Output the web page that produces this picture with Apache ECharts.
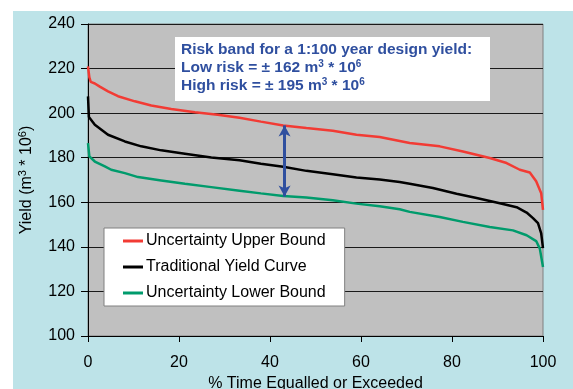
<!DOCTYPE html>
<html>
<head>
<meta charset="utf-8">
<script src="https://cdn.jsdelivr.net/npm/echarts@6/dist/echarts.min.js"></script>
<style>html,body{margin:0;padding:0;background:#fff}#c{width:573px;height:389px}</style>
</head>
<body>
<div id="c"></div>
<script>
// ---- data ----
const seriesNames = ['Uncertainty Upper Bound', 'Traditional Yield Curve', 'Uncertainty Lower Bound'];
const upperPct = [0, 0.3, 0.6, 1.5, 2.5, 4.4, 6.6, 10.3, 13.9, 18.3, 23.5, 28.5, 33.3, 38, 42.9, 48, 53.8, 59, 64.1, 68.5, 70.7, 77.3, 82.4, 88.3, 92, 94.9, 97.1, 98.5, 99.6, 100];
const upperVal = [221, 216, 214, 213.3, 212, 209.8, 207.6, 205.3, 203.4, 201.9, 200.4, 199.3, 197.9, 196.2, 194.5, 193.3, 192.1, 190.3, 189.3, 187.5, 186.6, 185.1, 182.8, 179.9, 177.6, 174.6, 173.4, 169.4, 164.1, 156.6];
const tradPct = [0, 0.2, 1.5, 4.4, 8.1, 11.7, 16.1, 21.3, 27.1, 33.3, 38, 42.9, 48, 53.8, 59, 64.1, 68.5, 70.7, 75.8, 81, 85.4, 90.5, 94.2, 96.4, 97.8, 98.9, 99.6, 100];
const tradVal = [207.5, 198.3, 194.8, 190.3, 187.3, 185.1, 183.3, 181.8, 180.1, 178.9, 177.3, 175.9, 174.1, 172.6, 171.1, 170.2, 169.1, 168.3, 166.4, 163.8, 161.9, 159.6, 157.8, 155.4, 152.9, 150.6, 146.1, 139.4];
const lowerPct = [0, 0.3, 1.5, 3.7, 5.1, 8.1, 11, 16.1, 21.3, 27.1, 33.3, 38, 42.9, 48, 53.8, 59, 64.1, 68.5, 70.7, 77.3, 82.4, 88.3, 93.4, 96.4, 98.5, 99.3, 100];
const lowerVal = [186.6, 180.6, 178.3, 176.1, 174.6, 173.1, 171.3, 169.8, 168.3, 166.8, 165.2, 164, 162.8, 162.1, 160.9, 159.4, 158.2, 156.9, 155.7, 153.4, 151.2, 148.9, 147.4, 145.2, 142.6, 139.2, 131];
const xTicks = [0, 20, 40, 60, 80, 100];
const yTicks = [100, 120, 140, 160, 180, 200, 220, 240];
const arrowPct = 43.2;
const arrowTop = 194.5;
const arrowBottom = 162.6;
const noteLines = ['Risk band for a 1:100 year design yield:', 'Low risk = \u00b1 162 m', 'High risk = \u00b1 195 m'];

const pairs = (xs, ys) => xs.map((x, i) => [x, ys[i]]);
const FONT = 'Arial, "Liberation Sans", sans-serif';
const colors = ['#f23b34', '#000000', '#009b6c'];
const blue = '#2f4f9f';

const chart = echarts.init(document.getElementById('c'), null, {renderer: 'canvas'});
chart.setOption({
  animation: false,
  backgroundColor: '#bde3e8',
  textStyle: {fontFamily: FONT},
  grid: {left: 88, right: 30, top: 24, bottom: 53, containLabel: false, outerBoundsMode: 'none', show: true, backgroundColor: '#c0c0c0', borderColor: '#808080', borderWidth: 1},
  xAxis: {
    type: 'value', min: xTicks[0], max: xTicks[xTicks.length - 1], interval: xTicks[1] - xTicks[0],
    name: '% Time Equalled or Exceeded', nameLocation: 'middle', nameGap: 39,
    nameTextStyle: {fontSize: 16, color: '#000', fontFamily: FONT},
    axisLine: {show: true, lineStyle: {color: '#000', width: 1}},
    axisTick: {show: true, inside: false, length: 6, lineStyle: {color: '#000'}},
    axisLabel: {fontSize: 16, color: '#000', margin: 19, fontFamily: FONT},
    splitLine: {show: false}
  },
  yAxis: {
    type: 'value', min: yTicks[0], max: yTicks[yTicks.length - 1], interval: yTicks[1] - yTicks[0],
    name: '{a|Yield (m}{s|3}{a| * 10}{s|6}{a|)}', nameLocation: 'middle', nameGap: 52, nameRotate: 90,
    nameTextStyle: {
      color: '#000', fontFamily: FONT,
      rich: {
        a: {fontSize: 16, color: '#000', fontFamily: FONT, lineHeight: 19, verticalAlign: 'middle'},
        s: {fontSize: 11, color: '#000', fontFamily: FONT, lineHeight: 12, verticalAlign: 'top'}
      }
    },
    axisLine: {show: true, lineStyle: {color: '#000', width: 1}},
    axisTick: {show: true, inside: false, length: 7, lineStyle: {color: '#000'}},
    axisLabel: {fontSize: 16, color: '#000', margin: 13, fontFamily: FONT},
    splitLine: {show: true, lineStyle: {color: '#1a1a1a', width: 1}}
  },
  legend: {
    orient: 'vertical', left: 104, top: 228,
    backgroundColor: '#ffffff', borderColor: '#808080', borderWidth: 1,
    padding: [5, 19, 5, 19], itemGap: 10, itemWidth: 20, itemHeight: 3,
    icon: 'rect',
    textStyle: {fontSize: 16, color: '#000', fontFamily: FONT, padding: [0, 0, 0, -2]},
    data: seriesNames
  },
  graphic: {
    elements: [
      {type: 'rect', left: 0, top: 0, shape: {width: 13, height: 389}, style: {fill: '#ffffff'}, silent: true},
      {type: 'rect', left: 0, top: 0, shape: {width: 573, height: 11}, style: {fill: '#ffffff'}, silent: true},
      {type: 'rect', left: 175, top: 37, shape: {width: 315, height: 64}, style: {fill: '#ffffff'}, z: 50, silent: true},
      {
        type: 'text', left: 181, top: 42, z: 51, silent: true,
        style: {
          text: '{a|' + noteLines[0] + '}\n{a|' + noteLines[1] + '}{s|3}{a| * 10}{s|6}\n{a|' + noteLines[2] + '}{s|3}{a| * 10}{s|6}',
          rich: {
            a: {fontSize: 15.5, fontWeight: 'bold', fill: blue, fontFamily: FONT, lineHeight: 18, verticalAlign: 'middle'},
            s: {fontSize: 10, fontWeight: 'bold', fill: blue, fontFamily: FONT, lineHeight: 13, verticalAlign: 'top'}
          }
        }
      }
    ]
  },
  series: [
    {name: seriesNames[0], type: 'line', data: pairs(upperPct, upperVal), showSymbol: false, symbol: 'none', lineStyle: {color: colors[0], width: 2.5}, itemStyle: {color: colors[0]}, z: 3},
    {name: seriesNames[1], type: 'line', data: pairs(tradPct, tradVal), showSymbol: false, symbol: 'none', lineStyle: {color: colors[1], width: 2.5}, itemStyle: {color: colors[1]}, z: 3,
      markLine: {
        silent: true, symbol: ['arrow', 'arrow'], symbolSize: [9, 11], animation: false,
        label: {show: false},
        lineStyle: {color: blue, width: 3, type: 'solid'},
        data: [[{coord: [arrowPct, arrowTop]}, {coord: [arrowPct, arrowBottom]}]]
      }
    },
    {name: seriesNames[2], type: 'line', data: pairs(lowerPct, lowerVal), showSymbol: false, symbol: 'none', lineStyle: {color: colors[2], width: 2.5}, itemStyle: {color: colors[2]}, z: 3}
  ]
});
</script>
</body>
</html>
